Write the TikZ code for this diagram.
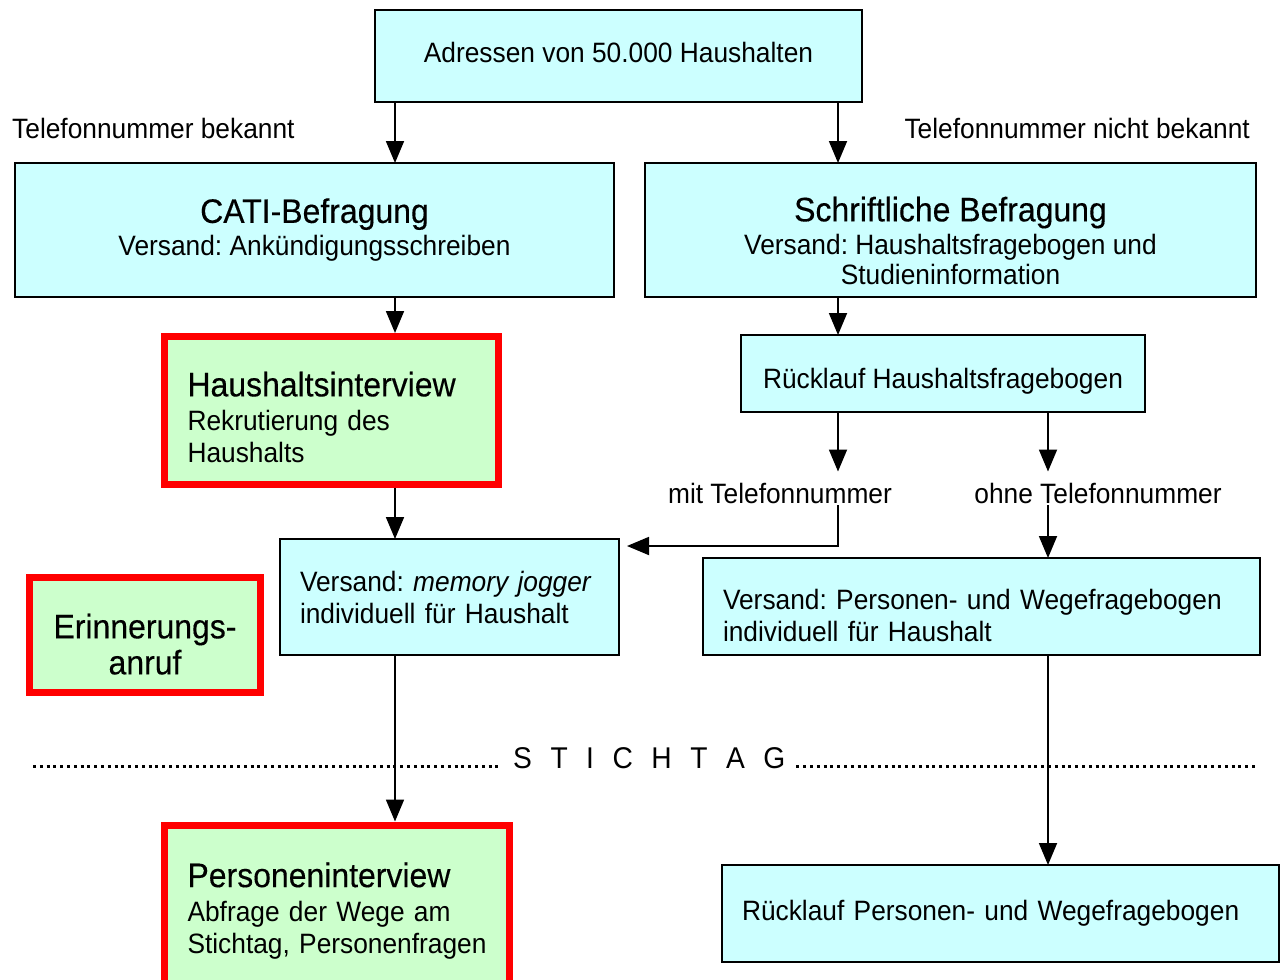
\documentclass[tikz,border=0pt]{standalone}
\usepackage{fontspec}
\setmainfont[FakeStretch=0.94]{Liberation Sans}
\usetikzlibrary{arrows.meta,calc}
\definecolor{boxcyan}{HTML}{CCFFFF}
\definecolor{boxgreen}{HTML}{CCFFCC}
\definecolor{boxred}{HTML}{FF0000}
\newcommand{\ttl}[1]{{\fontsize{34}{34}\selectfont\addfontfeature{FakeBold=0.3}#1}}
\newcommand{\up}[1]{\rule{0pt}{#1}}
\frenchspacing
\begin{document}
\begin{tikzpicture}[x=1pt,y=-1pt,
  cbox/.style={draw=black, line width=1.5pt, fill=boxcyan, inner sep=0pt, outer sep=0pt},
  rbox/.style={draw=boxred, line width=7pt, fill=boxgreen, inner sep=0pt},
  arr/.style={line width=1.8pt, -{Triangle[length=22pt,width=18pt]}},
  every node/.style={font=\fontsize{28}{32}\selectfont},
  lab/.style={inner sep=2pt},
  dotline/.style={line width=3pt, dash pattern=on 3pt off 3.8pt},
]
\useasboundingbox (0,0) rectangle (1288,980);
\fill[white] (0,0) rectangle (1288,980);

\coordinate (xL) at (395,0);
\coordinate (xR) at (838,0);
\coordinate (xRR) at (1048,0);

% boxes
\node[cbox, minimum width=487pt, minimum height=92pt] (top) at (618.5,56) {Adressen von 50.000 Haushalten\rule[-8pt]{0pt}{8pt}};
\node[cbox, minimum width=599pt, minimum height=134pt, align=center] (cati) at (314.5,230)
  {\ttl{CATI-Befragung}\\[1pt]Versand: Ankündigungsschreiben};
\node[cbox, minimum width=611pt, minimum height=134pt, align=center] (schr) at (950.5,230)
  {\ttl{\up{46pt}Schriftliche Befragung}\\[1pt]Versand: Haushaltsfragebogen und\\[-2pt]Studieninformation};
\node[rbox, minimum width=334pt, minimum height=148pt, text width=288pt, inner xsep=23pt, align=left] (hh) at (331.5,410.5)
  {\ttl{\up{38pt}Haushaltsinterview}\\[2pt]Rekrutierung des\\Haushalts};
\node[cbox, minimum width=404pt, minimum height=77pt] (rhf) at (943,373.5) {\up{36pt}Rücklauf Haushaltsfragebogen};
\node[lab] (mit) at (780,493) {mit Telefonnummer};
\node[lab] (ohne) at (1098,493) {ohne Telefonnummer};
\node[cbox, minimum width=339pt, minimum height=116pt, text width=299pt, inner xsep=20pt, align=left] (mj) at (449.5,597)
  {Versand: \textit{memory jogger}\\individuell für Haushalt};
\node[cbox, minimum width=557pt, minimum height=97pt, text width=517pt, inner xsep=20pt, align=left] (vpw) at (981.5,606.5)
  {\up{38pt}Versand: Personen- und Wegefragebogen\\individuell für Haushalt};
\node[rbox, minimum width=231pt, minimum height=115pt, align=center] (er) at (145,635)
  {\ttl{\up{43pt}Erinnerungs-}\\[4pt]\ttl{anruf}};
\node[rbox, minimum width=345pt, minimum height=160pt, text width=310pt, inner xsep=17.5pt, align=left] (pi) at (337,905)
  {\hspace*{5.5pt}\ttl{\up{36pt}Personeninterview}\\[2pt]\hspace*{5.5pt}Abfrage der Wege am\\\hspace*{5.5pt}\mbox{Stichtag, Personenfragen}};
\node[cbox, minimum width=557pt, minimum height=97pt, text width=517pt, inner xsep=20pt, align=left] (rpw) at (1000.5,913.5)
  {Rücklauf Personen- und Wegefragebogen};

% labels
\node[lab, anchor=west] (tb) at (10,128) {Telefonnummer bekannt};
\node[lab, anchor=east] (tnb) at (1252,128) {Telefonnummer nicht bekannt};

% Stichtag
\node[anchor=base west, inner xsep=11pt, inner ysep=0pt, font=\fontsize{30}{30}\selectfont] (stich) at (502,768)
  {S\hspace{18.5pt}T\hspace{18.5pt}I\hspace{18.5pt}C\hspace{18.5pt}H\hspace{18.5pt}T\hspace{18.5pt}A\hspace{18.5pt}G};
\coordinate (dl) at (33,766);
\coordinate (dr) at (1258,766);
\draw[dotline] (dl) -- (stich.west |- dl);
\draw[dotline] (stich.east |- dl) -- (dr);

% connectors
\draw[arr] (top.south -| xL) -- (cati.north -| xL);
\draw[arr] (top.south -| xR) -- (schr.north -| xR);
\draw[arr] (cati.south -| xL) -- (hh.north -| xL);
\draw[arr] (schr.south -| xR) -- (rhf.north -| xR);
\draw[arr] (hh.south -| xL) -- (mj.north -| xL);
\draw[arr, shorten >=9pt] (rhf.south -| xR) -- (mit.north -| xR);
\draw[arr, shorten >=9pt] (rhf.south -| xRR) -- (ohne.north -| xRR);
\draw[arr] (mit.south -| xR) |- ($(mj.north east)+(8,7)$);
\draw[arr] (ohne.south -| xRR) -- (vpw.north -| xRR);
\draw[arr] (mj.south -| xL) -- (pi.north -| xL);
\draw[arr] (vpw.south -| xRR) -- (rpw.north -| xRR);
\end{tikzpicture}
\end{document}
